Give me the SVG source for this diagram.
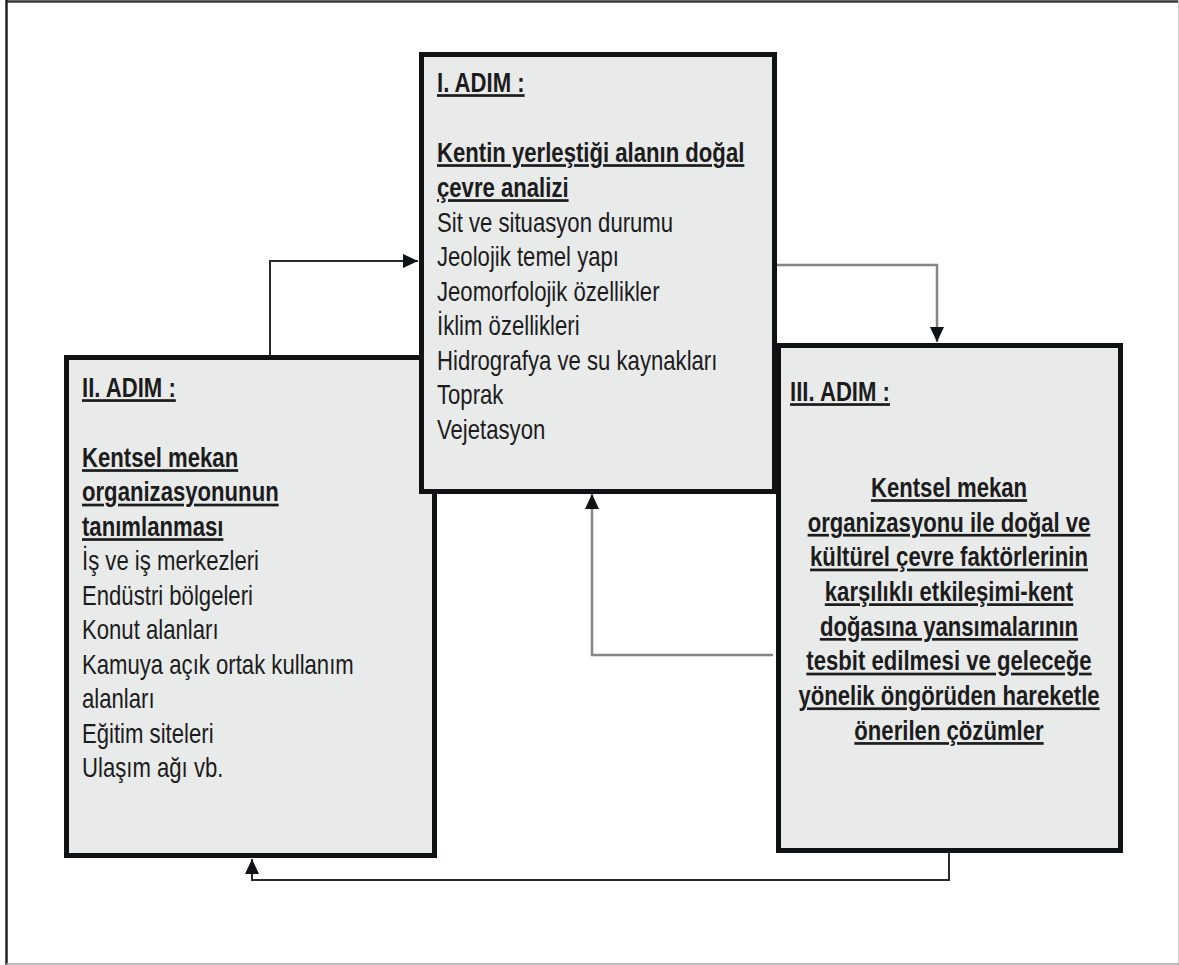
<svg xmlns="http://www.w3.org/2000/svg" width="1179" height="965" viewBox="0 0 1179 965">
  <style>
    .box { fill: #e9eaea; stroke: #111214; stroke-width: 5; }
    .txt { font-family: "Liberation Sans", Arial, sans-serif; font-size: 27px; fill: #1c1c1c; }
    .hd { font-weight: bold; text-decoration: underline; text-decoration-thickness: 3px; text-underline-offset: 3px; }
    .wire { fill: none; stroke-linejoin: miter; }
    .dark { stroke: #2a2a2a; stroke-width: 2; }
    .grey { stroke: #858585; stroke-width: 2.5; }
  </style>
  <defs>
    <marker id="tip" markerUnits="userSpaceOnUse" viewBox="0 0 15 14" markerWidth="15" markerHeight="14" refX="15" refY="7" orient="auto">
      <path d="M0,0 L15,7 L0,14 z" fill="#111214"/>
    </marker>
  </defs>

  <!-- page frame -->
  <rect x="0" y="0" width="1179" height="965" fill="#ffffff"/>
  <line x1="6" y1="1.5" x2="1179" y2="1.5" stroke="#3a3a3a" stroke-width="2.5"/>
  <line x1="6.5" y1="0" x2="6.5" y2="965" stroke="#222222" stroke-width="2.5"/>
  <line x1="1178.5" y1="0" x2="1178.5" y2="965" stroke="#cccccc" stroke-width="1"/>
  <line x1="6" y1="964" x2="1179" y2="964" stroke="#a8a8a8" stroke-width="1.5"/>

  <!-- connectors -->
  <g id="connectors">
    <path class="wire dark" d="M270,356 V261 H418" marker-end="url(#tip)"/>
    <path class="wire grey" d="M776,265 H937 V342" marker-end="url(#tip)"/>
    <path class="wire grey" d="M773,655 H592 V494" marker-end="url(#tip)"/>
    <path class="wire dark" d="M949,853 V880 H252 V859" marker-end="url(#tip)"/>
  </g>

  <!-- step II -->
  <g id="step2">
    <rect class="box" x="66.5" y="357.5" width="368" height="498"/>
    <g class="txt" transform="translate(82 0) scale(0.82 1)">
      <text class="hd" x="0" y="397">II. ADIM :</text>
      <text class="hd" x="0" y="467">Kentsel mekan</text>
      <text class="hd" x="0" y="501.5">organizasyonunun</text>
      <text class="hd" x="0" y="536">tanımlanması</text>
      <text x="0" y="570.5">İş ve iş merkezleri</text>
      <text x="0" y="605">Endüstri bölgeleri</text>
      <text x="0" y="639.5">Konut alanları</text>
      <text x="0" y="674">Kamuya açık ortak kullanım</text>
      <text x="0" y="708.5">alanları</text>
      <text x="0" y="743">Eğitim siteleri</text>
      <text x="0" y="777.5">Ulaşım ağı vb.</text>
    </g>
  </g>

  <!-- step III -->
  <g id="step3">
    <rect class="box" x="778.5" y="345.5" width="342" height="505"/>
    <g class="txt" transform="translate(790 0) scale(0.82 1)">
      <text class="hd" x="0" y="401">III. ADIM :</text>
    </g>
    <g class="txt" text-anchor="middle" transform="translate(949 0) scale(0.82 1)">
      <text class="hd" x="0" y="497">Kentsel mekan</text>
      <text class="hd" x="0" y="531.7">organizasyonu ile doğal ve</text>
      <text class="hd" x="0" y="566.4">kültürel çevre faktörlerinin</text>
      <text class="hd" x="0" y="601.1">karşılıklı etkileşimi-kent</text>
      <text class="hd" x="0" y="635.8">doğasına yansımalarının</text>
      <text class="hd" x="0" y="670.5">tesbit edilmesi ve geleceğe</text>
      <text class="hd" x="0" y="705.2">yönelik öngörüden hareketle</text>
      <text class="hd" x="0" y="739.9">önerilen çözümler</text>
    </g>
  </g>

  <!-- step I -->
  <g id="step1">
    <rect class="box" x="421.5" y="54.5" width="353" height="437"/>
    <g class="txt" transform="translate(437 0) scale(0.82 1)">
      <text class="hd" x="0" y="92">I. ADIM :</text>
      <text class="hd" x="0" y="162">Kentin yerleştiği alanın doğal</text>
      <text class="hd" x="0" y="197">çevre analizi</text>
      <text x="0" y="232">Sit ve situasyon durumu</text>
      <text x="0" y="266.5">Jeolojik temel yapı</text>
      <text x="0" y="301">Jeomorfolojik özellikler</text>
      <text x="0" y="335.5">İklim özellikleri</text>
      <text x="0" y="370">Hidrografya ve su kaynakları</text>
      <text x="0" y="404.5">Toprak</text>
      <text x="0" y="439">Vejetasyon</text>
    </g>
  </g>
</svg>
